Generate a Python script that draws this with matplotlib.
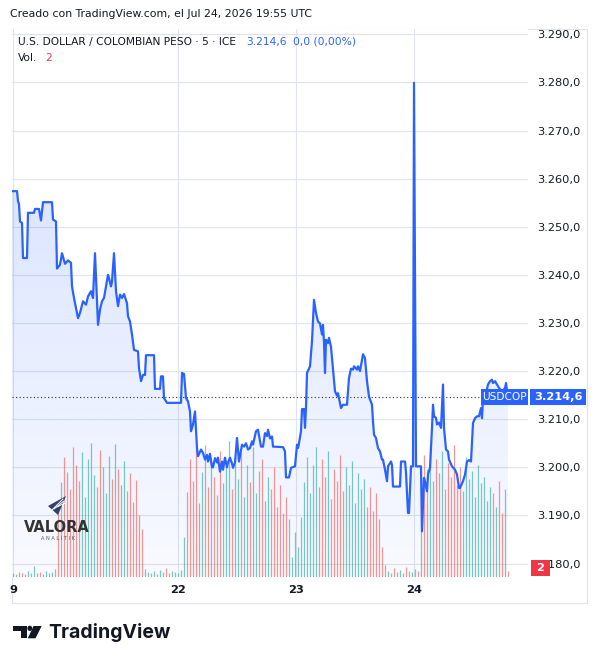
import numpy as np
import matplotlib.pyplot as plt
from matplotlib.patches import Rectangle, Polygon, Circle
from matplotlib.transforms import blended_transform_factory
from matplotlib.ticker import FuncFormatter
from matplotlib.colors import to_rgb

# ── Data (5-min bars, price vertices) ──────────────────────────────
bar_t = [0, 7, 8, 9, 10, 12, 13, 17, 18, 24, 25, 29, 31, 33, 42, 43, 46, 47, 50, 52,
         55, 58, 61, 62, 64, 68, 70, 73, 76, 78, 81, 83, 85, 88, 90, 92, 94, 98, 99, 101,
         102, 104, 106, 108, 110, 112, 114, 117, 118, 120, 122, 124, 128, 129, 131, 133, 135, 136, 144, 145,
         150, 151, 153, 154, 157, 171, 172, 174, 176, 178, 180, 181, 183, 185, 187, 188, 191, 193, 195, 197,
         198, 200, 202, 203, 205, 207, 208, 210, 212, 213, 215, 217, 218, 220, 222, 223, 225, 227, 229, 232,
         234, 236, 238, 240, 242, 243, 246, 248, 251, 253, 255, 257, 258, 260, 262, 263, 273, 275, 276, 279,
         281, 285, 287, 288, 289, 291, 292, 294, 295, 296, 297, 300, 302, 304, 306, 308, 310, 312, 313, 314,
         315, 316, 318, 319, 321, 323, 325, 327, 328, 331, 333, 337, 339, 341, 343, 344, 347, 348, 350, 352,
         353, 355, 357, 359, 362, 363, 364, 366, 368, 370, 372, 373, 375, 377, 378, 381, 382, 383, 390, 391,
         395, 396, 398, 399, 401, 403, 404, 406, 411, 412, 414, 415, 417, 418, 420, 422, 423, 424, 426, 427,
         429, 431, 433, 434, 436, 438, 439, 442, 445, 447, 449, 450, 453, 455, 457, 459, 461, 463, 465, 467,
         469, 471, 472, 473, 476, 478, 480, 482, 483, 485, 487, 489, 492, 493, 495, 496, 497, 498]
close = [3257.4, 3257.4, 3255.3, 3254.7, 3251.1, 3250.8, 3243.5, 3243.5, 3252.9, 3252.9, 3253.7, 3253.7, 3251.3, 3255.1, 3255.1, 3251.5, 3251.1, 3241.3, 3242.1, 3244.5,
         3242.3, 3243.0, 3242.5, 3237.6, 3235.2, 3231.0, 3232.1, 3234.5, 3233.8, 3235.5, 3236.6, 3235.2, 3244.5, 3229.6, 3232.8, 3234.5, 3235.2, 3240.0, 3239.3, 3237.6,
         3238.6, 3244.5, 3236.6, 3233.5, 3235.9, 3235.2, 3236.0, 3234.1, 3231.4, 3230.3, 3227.6, 3224.4, 3224.1, 3220.6, 3217.9, 3219.2, 3219.2, 3223.3, 3223.3, 3216.3,
         3216.3, 3218.9, 3218.9, 3214.4, 3213.4, 3213.4, 3219.6, 3219.4, 3214.4, 3213.7, 3211.6, 3207.5, 3208.9, 3211.6, 3204.0, 3202.3, 3203.7, 3203.0, 3201.6, 3202.6,
         3201.2, 3202.8, 3200.0, 3200.0, 3201.9, 3201.0, 3202.0, 3199.1, 3201.2, 3199.5, 3202.0, 3200.0, 3201.0, 3202.0, 3200.8, 3199.9, 3201.0, 3206.1, 3201.2, 3204.7,
         3204.3, 3205.0, 3203.7, 3204.0, 3205.4, 3204.7, 3207.5, 3207.8, 3204.3, 3204.3, 3207.1, 3206.5, 3207.8, 3206.0, 3206.4, 3204.3, 3204.2, 3203.3, 3197.9, 3197.9,
         3199.9, 3200.2, 3204.7, 3204.0, 3205.0, 3207.5, 3212.1, 3212.1, 3208.2, 3212.5, 3219.6, 3221.0, 3226.2, 3234.8, 3232.1, 3230.3, 3229.9, 3227.6, 3229.6, 3226.0,
         3219.6, 3226.5, 3225.8, 3226.9, 3225.0, 3220.3, 3215.8, 3214.9, 3215.4, 3212.3, 3213.0, 3213.0, 3218.6, 3220.5, 3220.3, 3221.0, 3220.3, 3221.0, 3220.0, 3222.4,
         3223.5, 3222.7, 3217.9, 3214.7, 3213.0, 3209.5, 3206.8, 3206.1, 3204.0, 3203.3, 3201.6, 3201.6, 3199.5, 3197.1, 3200.2, 3201.2, 3200.5, 3196.0, 3196.0, 3201.2,
         3201.2, 3199.0, 3190.5, 3190.5, 3200.2, 3200.2, 3279.9, 3200.2, 3200.2, 3186.7, 3197.8, 3197.0, 3195.0, 3198.5, 3199.9, 3208.2, 3213.0, 3210.6, 3210.3, 3208.9,
         3209.3, 3208.2, 3217.2, 3208.2, 3203.7, 3203.3, 3201.6, 3200.2, 3199.5, 3198.5, 3195.7, 3195.7, 3197.1, 3198.5, 3201.2, 3201.5, 3201.2, 3209.2, 3210.2, 3210.6,
         3210.6, 3212.3, 3210.2, 3214.4, 3215.4, 3217.2, 3217.9, 3218.2, 3217.5, 3217.9, 3217.2, 3216.5, 3215.8, 3216.0, 3216.5, 3217.5, 3216.1, 3214.6]

# volume, one value every 3 bars
volume = [3, 4, 3, 5, 4, 3, 6, 4, 11, 4, 5, 3, 6, 4, 5, 8,
          70, 95, 120, 105, 88, 130, 112, 96, 125, 80, 118, 134, 102, 90, 127, 110, 84, 121, 98, 133,
          108, 92, 116, 86, 104, 75, 97, 62, 48,
          8, 5, 4, 6, 3, 7, 5, 9, 4, 6, 5, 4, 7,
          40, 85, 118, 96, 128, 74, 105, 132, 90, 115, 100, 82, 126, 94, 110, 136, 88, 120, 98, 124,
          80, 112, 95, 130, 84, 106, 118, 76, 100, 88, 110, 70, 92, 64, 80, 58,
          20, 45, 30,
          60, 95, 120, 84, 112, 130, 90, 118, 100, 126, 78, 108, 96, 122, 86, 110, 92, 116, 74, 104,
          88, 98, 70, 90, 66, 84, 58,
          30, 12, 6, 4, 9, 5, 7, 4, 10, 6, 5, 8, 6,
          90, 122, 108, 130, 96, 118, 104, 126, 88, 114, 100, 132, 92, 110, 86, 120, 98, 106, 80, 112,
          94, 100, 76, 90, 84, 70, 96, 64, 88, 6]
vol_step = 3

day_ticks = [3, 168, 286, 404]
day_labels = ["9", "22", "23", "24"]
price_ticks = list(range(3180, 3291, 10))
last_price = 3214.6
last_vol = 2

BLUE = "#2962ff"
TEXT = "#131722"
GRID = "#e0e3eb"

W, H = 598, 664


def fx(x):
    return x / W


def fy(y):
    return 1 - y / H


def fmt_price(v, pos=None):
    return f"{v:,.1f}".replace(",", "X").replace(".", ",").replace("X", ".")


plt.rcParams['font.family'] = ['DejaVu Sans']

fig = plt.figure(figsize=(W / 100, H / 100), dpi=100)
fig.patch.set_facecolor("white")

rect = [fx(11.7), fy(577), (528 - 11.7) / W, (577 - 29) / H]
ax = fig.add_axes(rect, zorder=1)
ax_vol = fig.add_axes(rect, sharex=ax, zorder=2)
ax_line = fig.add_axes(rect, sharex=ax, sharey=ax, zorder=3)

# ── Price pane: grid, ticks, gradient area ─────────────────────────
ax.set_xlim(1.7, 518)
ax.set_ylim(3177.2, 3291.1)
for s in ax.spines.values():
    s.set_visible(False)
ax.yaxis.tick_right()
ax.set_yticks(price_ticks)
ax.yaxis.set_major_formatter(FuncFormatter(fmt_price))
ax.set_xticks(day_ticks)
ax.set_xticklabels(day_labels, fontweight="bold")
ax.tick_params(axis="y", length=0, pad=6.5, labelsize=8.2, labelcolor=TEXT)
ax.tick_params(axis="x", length=0, pad=6, labelsize=8.2, labelcolor=TEXT)
ax.grid(True, color=GRID, lw=0.8)
ax.set_axisbelow(True)

ymin = ax.get_ylim()[0]
poly = ax.fill_between(bar_t, close, ymin, color="none", lw=0)
grad = np.zeros((256, 1, 4))
grad[..., :3] = to_rgb(BLUE)
grad[..., 3] = np.linspace(0.03, 0.2, 256)[:, None]
im = ax.imshow(grad, extent=[bar_t[0], bar_t[-1], ymin, max(close)],
               origin="lower", aspect="auto", zorder=1, interpolation="bilinear")
im.set_clip_path(poly.get_paths()[0], transform=ax.transData)
ax.set_xlim(1.7, 518)
ax.set_ylim(3177.2, 3291.1)

# dotted last-price line
ax.axhline(last_price, xmax=(481 - 11.7) / (528 - 11.7), color="#2a2e39",
           lw=0.8, ls=(0, (1, 2.2)), zorder=2)

# ── Volume pane ────────────────────────────────────────────────────
vol_t = np.arange(len(volume)) * vol_step
px = np.interp(vol_t, bar_t, close)
up = np.r_[True, np.diff(px) >= 0]
vcol = np.where(up, "#26a69a", "#ef5350")
ax_vol.vlines(vol_t, 0, volume, colors=vcol, lw=0.9, alpha=0.6)
ax_vol.set_ylim(0, 548)
ax_vol.axis("off")
ax_vol.patch.set_alpha(0)

# ── Price line ─────────────────────────────────────────────────────
ax_line.plot(bar_t, close, color=BLUE, lw=1.6, solid_joinstyle="round")
ax_line.axis("off")
ax_line.patch.set_alpha(0)

# ── Labels on the price scale ──────────────────────────────────────
trans = blended_transform_factory(fig.transFigure, ax.transData)
box_h = 3.4
fig.add_artist(Rectangle((fx(481), last_price - box_h / 2), (528 - 481) / W, box_h,
                         transform=trans, fc=BLUE, ec="none", zorder=5))
fig.add_artist(Rectangle((fx(529.5), last_price - box_h / 2), (586 - 529.5) / W, box_h,
                         transform=trans, fc=BLUE, ec="none", zorder=5))
fig.text(fx(504.5), last_price, "USDCOP", transform=trans, color="white",
         fontsize=7.6, ha="center", va="center", zorder=6)
fig.text(fx(558), last_price, fmt_price(last_price), transform=trans, color="white",
         fontsize=8.2, fontweight="bold", ha="center", va="center", zorder=6)

fig.add_artist(Rectangle((fx(531), fy(576)), 19 / W, 16 / H, transform=fig.transFigure,
                         fc="#f23645", ec="none", zorder=5))
fig.text(fx(540.5), fy(568), str(last_vol), color="white", fontsize=8.2,
         fontweight="bold", ha="center", va="center", zorder=6)

# ── Frame and header texts ─────────────────────────────────────────
fig.add_artist(Rectangle((fx(11.7), fy(603)), (587 - 11.7) / W, (603 - 29) / H,
                         transform=fig.transFigure, fill=False, ec=GRID, lw=0.8))

fig.text(fx(10), fy(14), "Creado con TradingView.com, el Jul 24, 2026 19:55 UTC",
         color=TEXT, fontsize=7.8, va="center")
fig.text(fx(18), fy(42), "U.S. DOLLAR / COLOMBIAN PESO · 5 · ICE",
         color=TEXT, fontsize=7.7, va="center")
fig.text(fx(246), fy(42), fmt_price(last_price), color=BLUE, fontsize=7.7, va="center")
fig.text(fx(293), fy(42), "0,0 (0,00%)", color=BLUE, fontsize=7.7, va="center")
fig.text(fx(18), fy(58), "Vol.", color=TEXT, fontsize=7.7, va="center")
fig.text(fx(45), fy(58), str(last_vol), color="#f23645", fontsize=7.7, va="center")

# ── Valora Analitik watermark ──────────────────────────────────────
fig.add_artist(Polygon([(fx(48), fy(506)), (fx(66), fy(496)), (fx(58), fy(515))],
                       closed=True, transform=fig.transFigure, fc="#34406b", ec="none", zorder=7))
for k in range(3):
    fig.add_artist(plt.Line2D([fx(51 + 3 * k), fx(63 + 1 * k)], [fy(507 - 2 * k + 4), fy(499 + 2 * k)],
                              transform=fig.transFigure, color="white", lw=0.7, zorder=8))
fig.text(fx(57), fy(527), "VALORA", color="#333333", fontsize=10.5, fontweight="bold",
         ha="center", va="center", zorder=7)
fig.text(fx(58), fy(538), "A N A L I T I K", color="#555555", fontsize=3.6,
         ha="center", va="center", zorder=7)

# ── TradingView footer logo ────────────────────────────────────────
ft = fig.transFigure
fig.add_artist(Polygon([(fx(12.7), fy(626)), (fx(26.7), fy(626)), (fx(26.7), fy(638.3)),
                        (fx(20.7), fy(638.3)), (fx(20.7), fy(630.7)), (fx(12.7), fy(630.7))],
                       closed=True, transform=ft, fc=TEXT, ec="none"))
fig.add_artist(Circle((fx(29.8), fy(628.3)), 2.4 / W, transform=ft, fc=TEXT, ec="none"))
fig.add_artist(Polygon([(fx(33.5), fy(626)), (fx(41.7), fy(626)), (fx(35.5), fy(638.3)),
                        (fx(27.8), fy(638.3))],
                       closed=True, transform=ft, fc=TEXT, ec="none"))
fig.text(fx(48), fy(633), "TradingView", color=TEXT, fontsize=14, fontweight="bold",
         family=["Inter", "DejaVu Sans"], va="center")

fig.savefig("out.png", dpi=100, facecolor="white")
